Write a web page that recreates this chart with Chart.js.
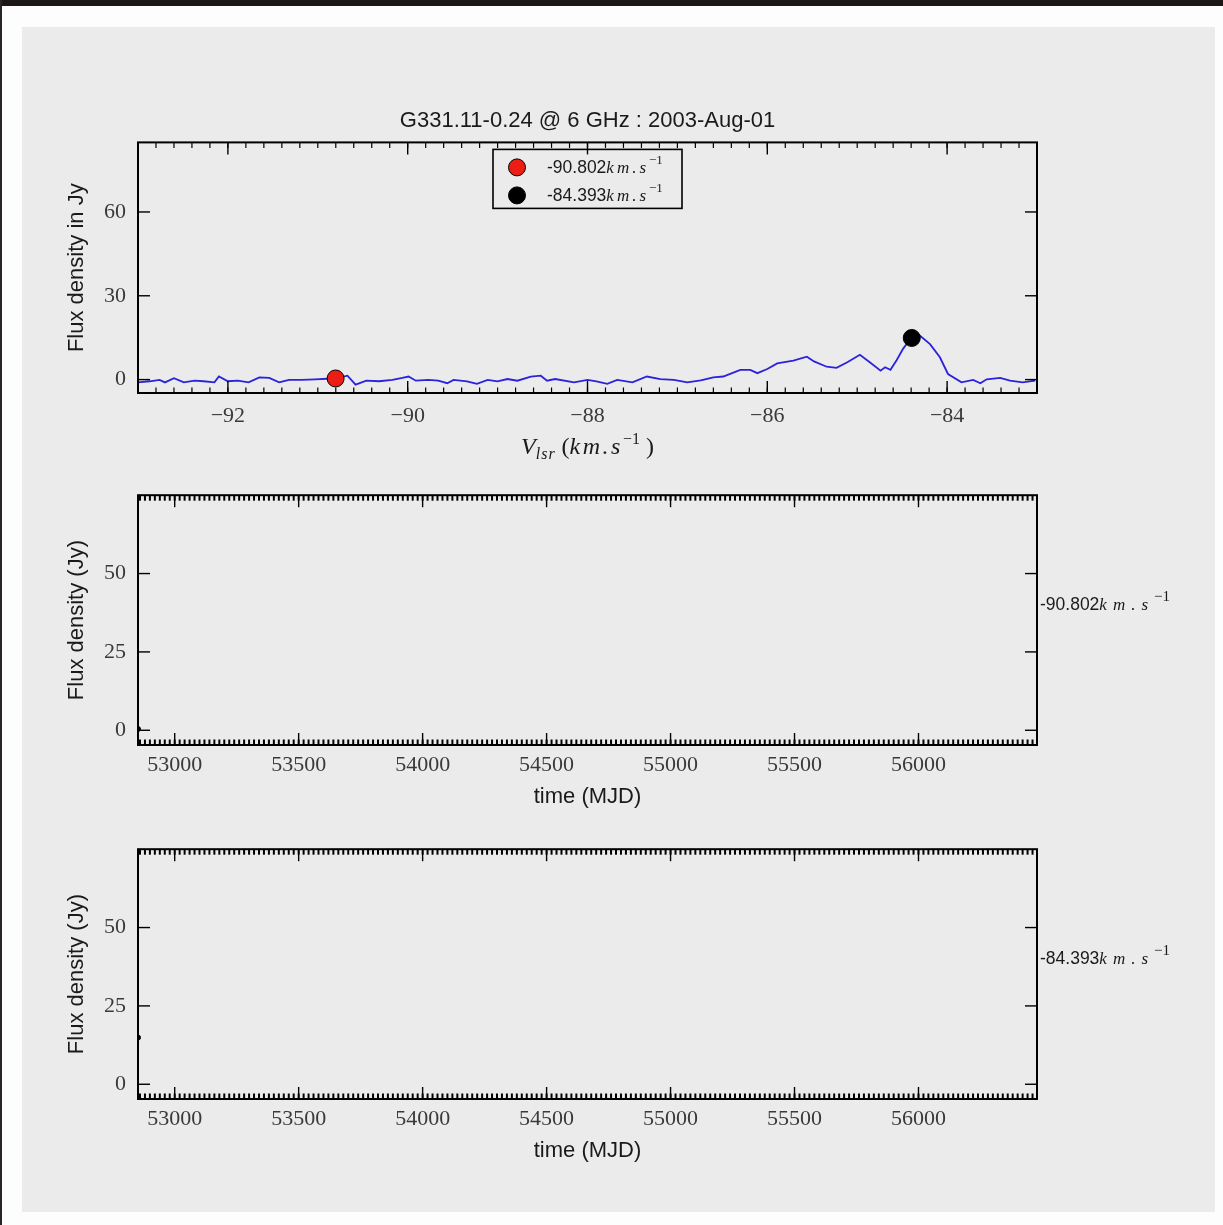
<!DOCTYPE html>
<html>
<head>
<meta charset="utf-8">
<script src="https://cdn.jsdelivr.net/npm/chart.js@4.4.1/dist/chart.umd.min.js"></script>
<style>
  html, body { margin: 0; padding: 0; background: #fdfdfd; }
  #page { position: relative; width: 1223px; height: 1225px; overflow: hidden; }
  #strip { position: absolute; left: 0; top: 0; width: 1223px; height: 6px; background: #1c1714; }
  #edge { position: absolute; left: 0; top: 0; width: 2px; height: 1225px; background: #2a2522; }
  #panel { position: absolute; left: 22px; top: 27px; width: 1193px; height: 1185px; background: #ebebeb; }
  canvas { position: absolute; left: 0; }
</style>
</head>
<body>
<div id="page">
  <div id="strip"></div>
  <div id="edge"></div>
  <div id="panel"></div>
  <canvas id="spec" width="1223" height="470" style="top:0"></canvas>
  <canvas id="ts1" width="1223" height="354" style="top:470px"></canvas>
  <canvas id="ts2" width="1223" height="354" style="top:824px"></canvas>
</div>
<script>
const SANS = '"Liberation Sans", Arial, sans-serif';
const SERIF = '"Liberation Serif", "DejaVu Serif", serif';

// Spectrum of G331.11-0.24 on 2003-Aug-01
const velocity = [
  -93.00, -92.87, -92.76, -92.70, -92.60, -92.49, -92.37, -92.27, -92.15, -92.10,
  -92.00, -91.89, -91.77, -91.65, -91.54, -91.43, -91.32, -91.18, -91.03, -90.90,
  -90.80, -90.67, -90.58, -90.46, -90.32, -90.17, -90.06, -89.99, -89.91, -89.77,
  -89.66, -89.56, -89.49, -89.34, -89.23, -89.11, -89.00, -88.89, -88.78, -88.63,
  -88.52, -88.45, -88.36, -88.15, -88.00, -87.90, -87.78, -87.67, -87.50, -87.34,
  -87.19, -87.04, -86.89, -86.74, -86.60, -86.49, -86.37, -86.30, -86.19, -86.11,
  -86.00, -85.89, -85.71, -85.56, -85.48, -85.34, -85.23, -85.11, -84.97, -84.86,
  -84.74, -84.69, -84.63, -84.56, -84.49, -84.40, -84.32, -84.19, -84.08, -83.99,
  -83.84, -83.71, -83.63, -83.56, -83.41, -83.30, -83.16, -83.02
];
const flux = [
  -1.0, -0.6, -0.1, -1.0, 0.5, -1.0, -0.4, -0.6, -1.0, 1.1,
  -0.6, -0.4, -1.0, 0.8, 0.6, -1.0, -0.1, -0.1, 0.1, 0.3,
  0.4, 1.4, -1.8, -0.4, -0.6, -0.1, 0.6, 1.1, -0.4, -0.1,
  -0.4, -1.3, -0.1, -0.6, -1.5, -0.1, -0.6, 0.2, -0.4, 1.1,
  1.4, -0.4, 0.2, -1.0, -0.1, -0.6, -1.5, -0.1, -1.0, 1.1,
  0.2, -0.1, -1.0, -0.3, 0.8, 1.1, 2.6, 3.5, 3.5, 2.3,
  3.8, 5.8, 6.8, 8.2, 6.5, 4.6, 4.2, 6.2, 8.9, 6.2,
  3.2, 4.4, 3.5, 7.0, 11.0, 14.9, 16.2, 12.7, 8.0, 2.0,
  -1.0, -0.1, -1.3, 0.1, 0.6, -0.4, -1.0, -0.4
];

// selected channels
const chanVel = [-90.802, -84.393];
const chanFlux = [0.4, 14.9];
const chanLabel = ['-90.802', '-84.393'];
const chanColor = ['#ee1d14', '#000000'];

// time series: only the current epoch (MJD of 2003-Aug-01)
const epochMJD = [52852];

// axes
const velRange = [-93.0, -83.0];
const specFluxRange = [-4.8, 84.9];
const velTicks = [-92, -90, -88, -86, -84];
const specFluxTicks = [0, 30, 60];
const mjdRange = [52852, 56478];
const tsFluxRange = [-4.7, 75];
const mjdTicks = [53000, 53500, 54000, 54500, 55000, 55500, 56000];
const tsFluxTicks = [0, 25, 50];

const setTicks = vals => scale => { scale.ticks = vals.map(v => ({ value: v })); };
const fmt = v => (v < 0 ? '\u2212' + Math.abs(v) : String(v));
const steps = (min, max, step) => {
  const out = [];
  for (let v = Math.ceil(min / step) * step; v <= max; v += step) out.push(+v.toFixed(6));
  return out;
};

// draw a row of text pieces with different fonts / baseline shifts
function drawRuns(ctx, x, y, runs, align) {
  ctx.save();
  ctx.textBaseline = 'alphabetic';
  ctx.textAlign = 'left';
  let total = 0;
  runs.forEach(r => { ctx.font = r.font; ctx.letterSpacing = r.ls || '0px'; r.w = ctx.measureText(r.text).width; total += r.w; });
  let cx = align === 'center' ? x - total / 2 : x;
  runs.forEach(r => {
    ctx.font = r.font;
    ctx.letterSpacing = r.ls || '0px';
    ctx.fillStyle = '#1a1a1a';
    ctx.fillText(r.text, cx, y + (r.dy || 0));
    cx += r.w;
  });
  ctx.restore();
}

// matplotlib-like frame with inward ticks on every side
const frame = {
  id: 'frame',
  afterDatasetsDraw(chart, args, opts) {
    const { ctx, chartArea: a, scales: { x, y } } = chart;
    ctx.save();
    ctx.strokeStyle = '#000';
    const seg = (x1, y1, x2, y2) => { ctx.beginPath(); ctx.moveTo(x1, y1); ctx.lineTo(x2, y2); ctx.stroke(); };
    const xt = (vals, len) => vals.forEach(v => {
      const p = x.getPixelForValue(v);
      if (p <= a.left + 1 || p >= a.right - 1) return;
      seg(p, a.bottom, p, a.bottom - len);
      seg(p, a.top, p, a.top + len);
    });
    const yt = (vals, len) => vals.forEach(v => {
      const p = y.getPixelForValue(v);
      if (p <= a.top + 1 || p >= a.bottom - 1) return;
      seg(a.left, p, a.left + len, p);
      seg(a.right, p, a.right - len, p);
    });
    ctx.lineWidth = opts.minorWidth || 1.2;
    xt(steps(x.min, x.max, opts.xMinor), 5.5);
    ctx.lineWidth = 1.4;
    xt(opts.xMajor, 12);
    yt(opts.yMajor, 12);
    ctx.lineWidth = 2;
    ctx.strokeRect(a.left, a.top, a.width, a.height);
    ctx.restore();
  }
};

// legend box + V_lsr axis label for the spectrum panel
const specExtras = {
  id: 'specExtras',
  afterDraw(chart) {
    const { ctx, chartArea: a } = chart;
    const mid = (a.left + a.right) / 2;
    const bw = 189, bh = 59, bx = mid - bw / 2, by = a.top + 7;
    ctx.save();
    ctx.strokeStyle = '#000';
    ctx.lineWidth = 1.6;
    ctx.strokeRect(bx, by, bw, bh);
    chanLabel.forEach((lab, i) => {
      const cy = by + 18 + i * 28;
      ctx.beginPath();
      ctx.arc(bx + 24, cy, 8.5, 0, Math.PI * 2);
      ctx.fillStyle = chanColor[i];
      ctx.fill();
      ctx.lineWidth = 1;
      ctx.strokeStyle = '#000';
      ctx.stroke();
      drawRuns(ctx, bx + 54, cy + 6, [
        { text: lab, font: '17.5px ' + SANS },
        { text: 'km.s', font: 'italic 17px ' + SERIF, ls: '3px' },
        { text: '\u22121', font: '13px ' + SERIF, dy: -9 }
      ], 'left');
    });
    ctx.restore();
    drawRuns(ctx, mid, a.bottom + 61, [
      { text: 'V', font: 'italic 24px ' + SERIF },
      { text: 'lsr', font: 'italic 16px ' + SERIF, dy: 5, ls: '1px' },
      { text: ' (', font: '24px ' + SERIF },
      { text: 'km.s', font: 'italic 24px ' + SERIF, ls: '2.5px' },
      { text: '\u22121', font: '16px ' + SERIF, dy: -10 },
      { text: ' )', font: '24px ' + SERIF }
    ], 'center');
  }
};

// channel name written to the right of each time-series panel
const sideLabel = {
  id: 'sideLabel',
  afterDraw(chart, args, opts) {
    const { ctx, chartArea: a } = chart;
    drawRuns(ctx, a.right + 3, a.top + 115, [
      { text: opts.text, font: '17.5px ' + SANS },
      { text: 'km.s', font: 'italic 17px ' + SERIF, ls: '6px' },
      { text: '\u22121', font: '15px ' + SERIF, dy: -9 }
    ], 'left');
  }
};

const tickFont = { family: SERIF, size: 22 };
const axTitleFont = { family: SANS, size: 22 };

function yAxis(range, ticks, title) {
  return {
    type: 'linear', min: range[0], max: range[1],
    afterBuildTicks: setTicks(ticks),
    afterFit: s => { s.width = 74; },
    grid: { display: false, drawTicks: false },
    border: { display: false },
    ticks: { font: tickFont, color: '#3a3a3a', padding: 12, callback: fmt },
    title: { display: true, text: title, font: axTitleFont, color: '#1a1a1a', padding: { top: 0, bottom: 0 } }
  };
}

new Chart(document.getElementById('spec'), {
  type: 'scatter',
  data: {
    datasets: [
      {
        label: 'spectrum', order: 1,
        data: velocity.map((v, i) => ({ x: v, y: flux[i] })),
        showLine: true, borderColor: '#2b22dc', borderWidth: 1.8, pointRadius: 0, tension: 0
      },
      ...chanVel.map((v, i) => ({
        label: chanLabel[i], order: 0,
        data: [{ x: v, y: chanFlux[i] }],
        pointRadius: 8.5, pointBackgroundColor: chanColor[i], pointBorderColor: '#000', pointBorderWidth: 1
      }))
    ]
  },
  options: {
    responsive: false, animation: false, devicePixelRatio: 1,
    layout: { padding: { top: 108, left: 64, right: 186, bottom: 17 } },
    scales: {
      x: {
        type: 'linear', min: velRange[0], max: velRange[1],
        afterBuildTicks: setTicks(velTicks),
        afterFit: s => { s.height = 60; },
        grid: { display: false, drawTicks: false },
        border: { display: false },
        ticks: { font: tickFont, color: '#3a3a3a', padding: 10, callback: fmt }
      },
      y: yAxis(specFluxRange, specFluxTicks, 'Flux density in Jy')
    },
    plugins: {
      legend: { display: false },
      tooltip: { enabled: false },
      title: {
        display: true, fullSize: false, text: 'G331.11-0.24 @ 6 GHz : 2003-Aug-01',
        font: { family: SANS, size: 22, weight: 'normal' }, color: '#1a1a1a',
        padding: { top: 0, bottom: 8 }
      },
      frame: { xMajor: velTicks, xMinor: 0.2, yMajor: specFluxTicks }
    }
  },
  plugins: [frame, specExtras]
});

function timeChart(id, i) {
  new Chart(document.getElementById(id), {
    type: 'scatter',
    data: {
      datasets: [{
        label: chanLabel[i],
        data: epochMJD.map(m => ({ x: m, y: chanFlux[i] })),
        pointRadius: 2.5, pointBackgroundColor: '#000', pointBorderColor: '#000'
      }]
    },
    options: {
      responsive: false, animation: false, devicePixelRatio: 1,
      layout: { padding: { top: 25, left: 64, right: 186, bottom: 14 } },
      scales: {
        x: {
          type: 'linear', min: mjdRange[0], max: mjdRange[1],
          afterBuildTicks: setTicks(mjdTicks),
          afterFit: s => { s.height = 65; },
          grid: { display: false, drawTicks: false },
          border: { display: false },
          ticks: { font: tickFont, color: '#3a3a3a', padding: 7, callback: v => String(v) },
          title: { display: true, text: 'time (MJD)', font: axTitleFont, color: '#1a1a1a', padding: { top: 0, bottom: 0 } }
        },
        y: yAxis(tsFluxRange, tsFluxTicks, 'Flux density (Jy)')
      },
      plugins: {
        legend: { display: false },
        tooltip: { enabled: false },
        frame: { xMajor: mjdTicks, xMinor: 20, yMajor: tsFluxTicks, minorWidth: 2 },
        sideLabel: { text: chanLabel[i] }
      }
    },
    plugins: [frame, sideLabel]
  });
}

timeChart('ts1', 0);
timeChart('ts2', 1);
</script>
</body>
</html>
